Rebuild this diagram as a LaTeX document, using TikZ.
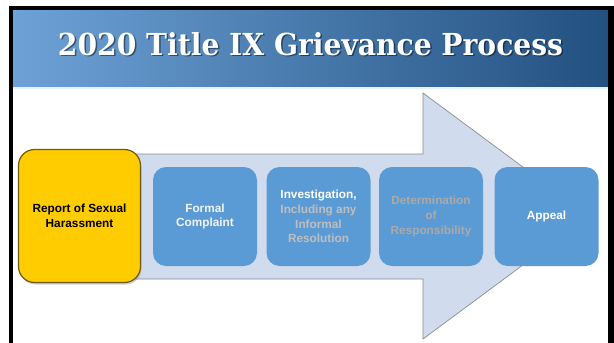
\documentclass[tikz,border=0pt]{standalone}
\usepackage{fontspec}
\usetikzlibrary{shadows}
\newfontfamily\titlefont{DejaVu Serif}
\newfontfamily\boxfont{Liberation Sans}
\definecolor{hdrL}{RGB}{110,162,215}
\definecolor{hdrR}{RGB}{34,80,128}
\definecolor{arrowfill}{RGB}{208,220,238}
\definecolor{arrowline}{RGB}{140,140,140}
\definecolor{boxblue}{RGB}{91,155,213}
\definecolor{ybox}{RGB}{255,204,0}
\definecolor{yline}{RGB}{110,88,20}
\definecolor{txtlight}{RGB}{242,242,242}
\definecolor{txtgray}{RGB}{190,190,190}
\definecolor{txtgrayb}{RGB}{170,170,170}
\tikzset{
  stepbox/.style={fill=boxblue, draw=none, rounded corners=13pt,
    minimum width=104pt, minimum height=99pt, inner sep=2pt,
    align=center, font=\boxfont\bfseries\fontsize{11.8}{14.8}\selectfont},
  reportbox/.style={fill=ybox, draw=yline, line width=1.2pt, rounded corners=16pt,
    minimum width=122pt, minimum height=133pt, inner sep=2pt, align=center,
    font=\boxfont\bfseries\fontsize{11.8}{14.8}\selectfont,
    drop shadow={shadow xshift=1pt, shadow yshift=-2pt, opacity=0.4}},
  flowarrow/.style={fill=arrowfill, draw=arrowline, line width=0.7pt, line join=miter}
}
\begin{document}
\begin{tikzpicture}[x=1pt,y=-1pt]
\useasboundingbox (0,0) rectangle (614,343);
\fill[white] (0,0) rectangle (614,343);
% header band
\shade[left color=hdrL, right color=hdrR] (12,10) rectangle (608,87);
\fill[white!85!hdrL] (12,87) rectangle (608,88.5);
% black frame
\fill[black] (9,6) rectangle (614,10);
\fill[black] (9,6) rectangle (12.5,343);
\fill[black] (608,6) rectangle (614,343);
% title
\node[text=black, opacity=0.45, inner sep=0] at (312,45.5) {\resizebox{505pt}{23pt}{\titlefont\bfseries 2020 Title IX Grievance Process}};
\node[text=white, inner sep=0] (title) at (310.5,44) {\resizebox{505pt}{23pt}{\titlefont\bfseries 2020 Title IX Grievance Process}};
% big arrow
\draw[flowarrow] (30,154) -- (423,154) -- (423,93) -- (589,216) -- (423,339) -- (423,279) -- (30,279) -- cycle;
% boxes
\node[reportbox] (report) at (79.5,216) {Report of Sexual\\Harassment};
\node[stepbox, text=txtlight] (formal) at (205,216.5) {Formal\\Complaint};
\node[stepbox] (invest) at (318.5,216.5) {\textcolor{white}{Investigation,}\\\textcolor{txtgray}{Including any}\\\textcolor{txtgray}{Informal}\\\textcolor{txtgray}{Resolution}};
\node[stepbox, text=txtgrayb] (determ) at (431,216.5) {Determination\\of\\Responsibility};
\node[stepbox, text=white] (appeal) at (546.5,216.5) {Appeal};
\end{tikzpicture}
\end{document}
